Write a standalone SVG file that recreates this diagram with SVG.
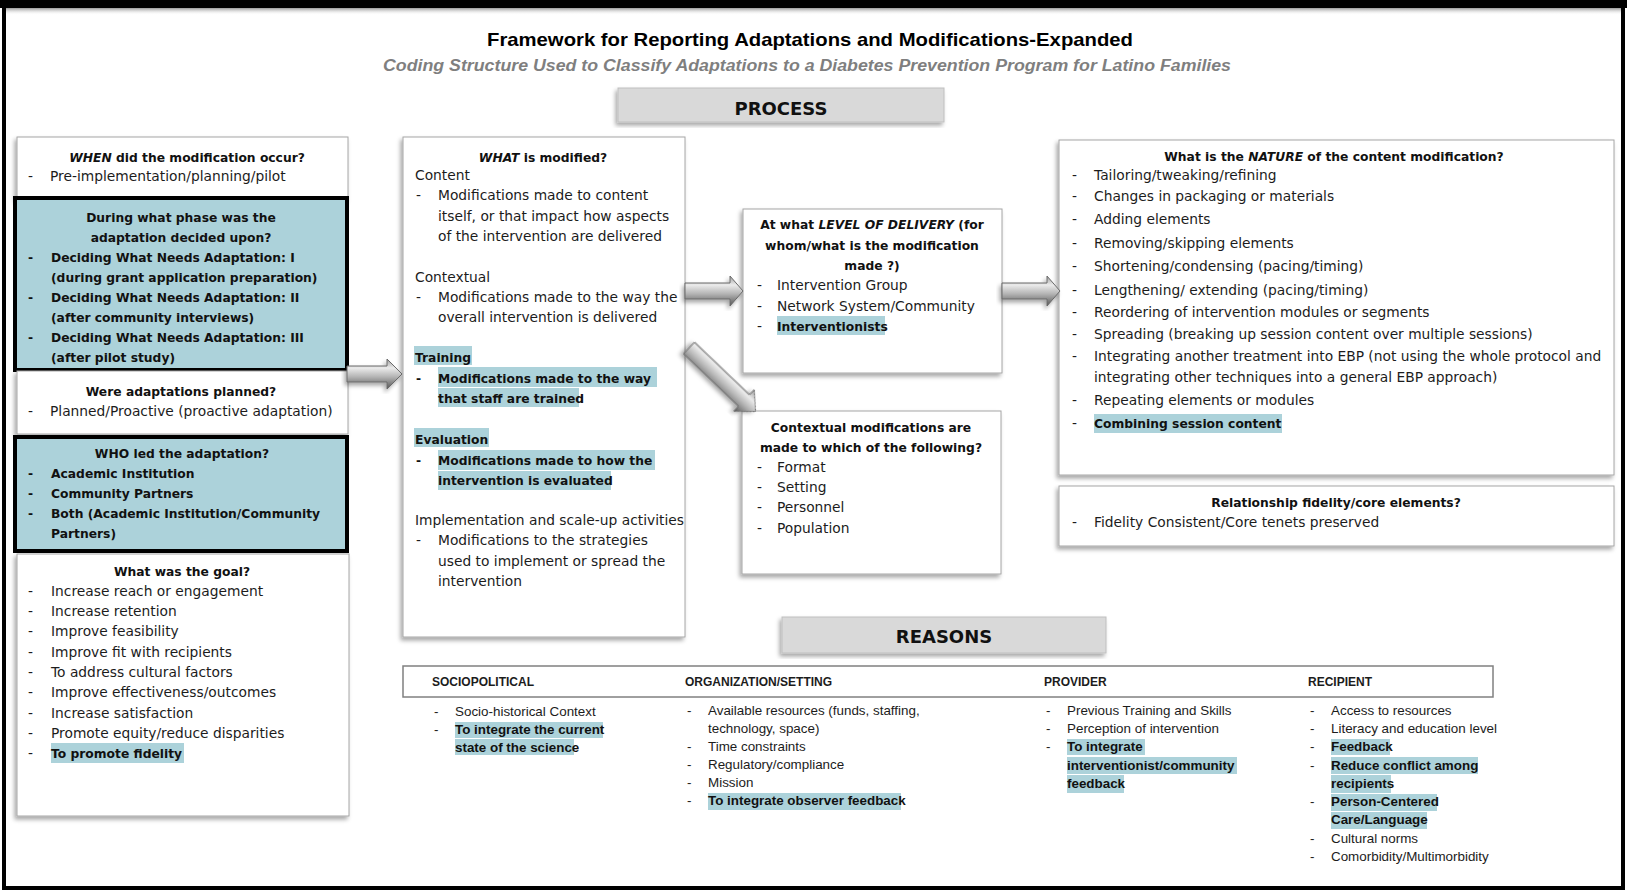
<svg xmlns="http://www.w3.org/2000/svg" width="1627" height="891" viewBox="0 0 1627 891">
<defs>
<style>
.r{font-family:"DejaVu Sans",sans-serif;font-size:13.8px;fill:#1c1c1c}
.b{font-family:"DejaVu Sans",sans-serif;font-size:12.3px;font-weight:bold;fill:#111}
.i{font-style:italic}
.m{text-anchor:middle}
.s{font-family:"Liberation Sans",Arial,sans-serif;font-size:13.4px;fill:#1c1c1c}
.sb{font-family:"Liberation Sans",Arial,sans-serif;font-size:13.4px;font-weight:bold;fill:#111}
.sh{font-family:"Liberation Sans",Arial,sans-serif;font-size:12px;font-weight:bold;fill:#1c1c1c}
.hl{fill:#acd2da}
.box{fill:#fff;stroke:#a6a6a6;stroke-width:1}
.teal{fill:#acd2da;stroke:#000;stroke-width:4}
.lab{fill:#d9d9d9;stroke:#bfbfbf;stroke-width:1}
.arr{fill:url(#ag);stroke:#6a6a6a;stroke-width:1}
.big{font-family:"DejaVu Sans",sans-serif;font-size:18px;font-weight:bold;fill:#111;text-anchor:middle}
</style>
<filter id="ds" x="-10%" y="-10%" width="120%" height="125%"><feDropShadow dx="-2" dy="3" stdDeviation="2" flood-color="#000" flood-opacity="0.35"/></filter>
<linearGradient id="ag" x1="0" y1="0" x2="0" y2="1"><stop offset="0" stop-color="#9a9a9a"/><stop offset="0.3" stop-color="#ebebeb"/><stop offset="0.6" stop-color="#b3b3b3"/><stop offset="1" stop-color="#555555"/></linearGradient>
<linearGradient id="topsh" x1="0" y1="0" x2="0" y2="1"><stop offset="0" stop-color="#999"/><stop offset="1" stop-color="#fff" stop-opacity="0"/></linearGradient>
</defs>
<rect x="0" y="0" width="1627" height="891" fill="#fff"/>
<rect x="6" y="8" width="1615" height="7" fill="url(#topsh)"/>
<rect x="4" y="4" width="1619" height="884" fill="none" stroke="#000" stroke-width="4"/>
<rect x="0" y="0" width="1627" height="8" fill="#000"/>

<g id="title">
<text x="810" y="46" font-family="'Liberation Sans',Arial,sans-serif" font-size="19" font-weight="bold" fill="#000" text-anchor="middle" textLength="646" lengthAdjust="spacingAndGlyphs">Framework for Reporting Adaptations and Modifications-Expanded</text>
<text x="807" y="71" font-family="'Liberation Sans',Arial,sans-serif" font-size="16" font-weight="bold" font-style="italic" fill="#7f7f7f" text-anchor="middle" textLength="848" lengthAdjust="spacingAndGlyphs">Coding Structure Used to Classify Adaptations to a Diabetes Prevention Program for Latino Families</text>
</g>

<g id="process">
<rect class="lab" x="618" y="88" width="326" height="34" filter="url(#ds)"/>
<text class="big" x="781" y="115">PROCESS</text>
</g>

<g id="when">
<rect class="box" x="17" y="137" width="331" height="63" filter="url(#ds)"/>
<text class="b m" x="187" y="162"><tspan class="i">WHEN</tspan> did the modification occur?</text>
<text class="r" x="28" y="181">-</text><text class="r" x="50" y="181">Pre-implementation/planning/pilot</text>
</g>

<g id="phase">
<rect class="teal" x="15" y="198" width="332" height="172"/>
<text class="b m" x="181" y="222">During what phase was the</text>
<text class="b m" x="181" y="242">adaptation decided upon?</text>
<text class="b" x="28" y="262">-</text><text class="b" x="51" y="262">Deciding What Needs Adaptation: I</text>
<text class="b" x="51" y="282">(during grant application preparation)</text>
<text class="b" x="28" y="302">-</text><text class="b" x="51" y="302">Deciding What Needs Adaptation: II</text>
<text class="b" x="51" y="322">(after community interviews)</text>
<text class="b" x="28" y="342">-</text><text class="b" x="51" y="342">Deciding What Needs Adaptation: III</text>
<text class="b" x="51" y="362">(after pilot study)</text>
</g>

<g id="planned">
<rect class="box" x="17" y="371" width="331" height="63" filter="url(#ds)"/>
<text class="b m" x="181" y="396">Were adaptations planned?</text>
<text class="r" x="28" y="416">-</text><text class="r" x="50" y="416">Planned/Proactive (proactive adaptation)</text>
</g>

<g id="who">
<rect class="teal" x="15" y="437" width="332" height="114"/>
<text class="b m" x="182" y="458">WHO led the adaptation?</text>
<text class="b" x="28" y="478">-</text><text class="b" x="51" y="478">Academic Institution</text>
<text class="b" x="28" y="498">-</text><text class="b" x="51" y="498">Community Partners</text>
<text class="b" x="28" y="518">-</text><text class="b" x="51" y="518">Both (Academic Institution/Community</text>
<text class="b" x="51" y="538">Partners)</text>
</g>

<g id="goal">
<rect class="box" x="17" y="554" width="332" height="262" filter="url(#ds)"/>
<rect class="hl" x="51" y="743" width="133" height="20"/>
<text class="b m" x="182" y="576">What was the goal?</text>
<text class="r" x="28" y="596">-</text><text class="r" x="51" y="596">Increase reach or engagement</text>
<text class="r" x="28" y="616">-</text><text class="r" x="51" y="616">Increase retention</text>
<text class="r" x="28" y="636">-</text><text class="r" x="51" y="636">Improve feasibility</text>
<text class="r" x="28" y="657">-</text><text class="r" x="51" y="657">Improve fit with recipients</text>
<text class="r" x="28" y="677">-</text><text class="r" x="51" y="677">To address cultural factors</text>
<text class="r" x="28" y="697">-</text><text class="r" x="51" y="697">Improve effectiveness/outcomes</text>
<text class="r" x="28" y="718">-</text><text class="r" x="51" y="718">Increase satisfaction</text>
<text class="r" x="28" y="738">-</text><text class="r" x="51" y="738">Promote equity/reduce disparities</text>
<text class="r" x="28" y="758">-</text><text class="b" x="51" y="758">To promote fidelity</text>
</g>

<g id="what">
<rect class="box" x="403" y="137" width="282" height="500" filter="url(#ds)"/>
<rect class="hl" x="414" y="346" width="58" height="19"/>
<rect class="hl" x="438" y="367" width="219" height="20"/>
<rect class="hl" x="438" y="388" width="141" height="19"/>
<rect class="hl" x="414" y="428" width="75" height="19"/>
<rect class="hl" x="438" y="450" width="217" height="20"/>
<rect class="hl" x="438" y="471" width="173" height="19"/>
<text class="b m" x="543" y="162"><tspan class="i">WHAT</tspan> is modified?</text>
<text class="r" x="415" y="180">Content</text>
<text class="r" x="416" y="200">-</text><text class="r" x="438" y="200">Modifications made to content</text>
<text class="r" x="438" y="221">itself, or that impact how aspects</text>
<text class="r" x="438" y="241">of the intervention are delivered</text>
<text class="r" x="415" y="282">Contextual</text>
<text class="r" x="416" y="302">-</text><text class="r" x="438" y="302">Modifications made to the way the</text>
<text class="r" x="438" y="322">overall intervention is delivered</text>
<text class="b" x="415" y="362">Training</text>
<text class="b" x="416" y="383">-</text><text class="b" x="438" y="383">Modifications made to the way</text>
<text class="b" x="438" y="403">that staff are trained</text>
<text class="b" x="415" y="444">Evaluation</text>
<text class="b" x="416" y="465">-</text><text class="b" x="438" y="465">Modifications made to how the</text>
<text class="b" x="438" y="485">intervention is evaluated</text>
<text class="r" x="415" y="525">Implementation and scale-up activities</text>
<text class="r" x="416" y="545">-</text><text class="r" x="438" y="545">Modifications to the strategies</text>
<text class="r" x="438" y="566">used to implement or spread the</text>
<text class="r" x="438" y="586">intervention</text>
</g>

<g id="level">
<rect class="box" x="743" y="209" width="259" height="164" filter="url(#ds)"/>
<rect class="hl" x="777" y="316" width="108" height="19"/>
<text class="b m" x="872" y="229">At what <tspan class="i">LEVEL OF DELIVERY</tspan> (for</text>
<text class="b m" x="872" y="250">whom/what is the modification</text>
<text class="b m" x="872" y="270">made ?)</text>
<text class="r" x="757" y="290">-</text><text class="r" x="777" y="290">Intervention Group</text>
<text class="r" x="757" y="311">-</text><text class="r" x="777" y="311">Network System/Community</text>
<text class="r" x="757" y="331">-</text><text class="b" x="777" y="331">Interventionists</text>
</g>

<g id="contextual">
<rect class="box" x="742" y="411" width="259" height="163" filter="url(#ds)"/>
<text class="b m" x="871" y="432">Contextual modifications are</text>
<text class="b m" x="871" y="452">made to which of the following?</text>
<text class="r" x="757" y="472">-</text><text class="r" x="777" y="472">Format</text>
<text class="r" x="757" y="492">-</text><text class="r" x="777" y="492">Setting</text>
<text class="r" x="757" y="512">-</text><text class="r" x="777" y="512">Personnel</text>
<text class="r" x="757" y="533">-</text><text class="r" x="777" y="533">Population</text>
</g>

<g id="nature">
<rect class="box" x="1059" y="140" width="555" height="335" filter="url(#ds)"/>
<rect class="hl" x="1094" y="414" width="188" height="19"/>
<text class="b m" x="1334" y="161">What is the <tspan class="i">NATURE</tspan> of the content modification?</text>
<text class="r" x="1072" y="180">-</text><text class="r" x="1094" y="180">Tailoring/tweaking/refining</text>
<text class="r" x="1072" y="201">-</text><text class="r" x="1094" y="201">Changes in packaging or materials</text>
<text class="r" x="1072" y="224">-</text><text class="r" x="1094" y="224">Adding elements</text>
<text class="r" x="1072" y="248">-</text><text class="r" x="1094" y="248">Removing/skipping elements</text>
<text class="r" x="1072" y="271">-</text><text class="r" x="1094" y="271">Shortening/condensing (pacing/timing)</text>
<text class="r" x="1072" y="295">-</text><text class="r" x="1094" y="295">Lengthening/ extending (pacing/timing)</text>
<text class="r" x="1072" y="317">-</text><text class="r" x="1094" y="317">Reordering of intervention modules or segments</text>
<text class="r" x="1072" y="339">-</text><text class="r" x="1094" y="339">Spreading (breaking up session content over multiple sessions)</text>
<text class="r" x="1072" y="361">-</text><text class="r" x="1094" y="361">Integrating another treatment into EBP (not using the whole protocol and</text>
<text class="r" x="1094" y="382">integrating other techniques into a general EBP approach)</text>
<text class="r" x="1072" y="405">-</text><text class="r" x="1094" y="405">Repeating elements or modules</text>
<text class="r" x="1072" y="428">-</text><text class="b" x="1094" y="428">Combining session content</text>
</g>

<g id="relationship">
<rect class="box" x="1059" y="486" width="555" height="60" filter="url(#ds)"/>
<text class="b m" x="1336" y="507">Relationship fidelity/core elements?</text>
<text class="r" x="1072" y="527">-</text><text class="r" x="1094" y="527">Fidelity Consistent/Core tenets preserved</text>
</g>

<g id="reasons">
<rect class="lab" x="782" y="617" width="324" height="36" filter="url(#ds)"/>
<text class="big" x="944" y="643">REASONS</text>
</g>

<g id="reasons-table">
<rect x="403" y="666" width="1090" height="31" fill="none" stroke="#808080" stroke-width="1.5"/>
<text class="sh" x="432" y="686">SOCIOPOLITICAL</text>
<text class="sh" x="685" y="686">ORGANIZATION/SETTING</text>
<text class="sh" x="1044" y="686">PROVIDER</text>
<text class="sh" x="1308" y="686">RECIPIENT</text>
</g>

<g id="sociopolitical">
<rect class="hl" x="455" y="722" width="148" height="16"/>
<rect class="hl" x="455" y="739" width="119" height="16"/>
<text class="s" x="434" y="716">-</text><text class="s" x="455" y="716">Socio-historical Context</text>
<text class="s" x="434" y="734">-</text><text class="sb" x="455" y="734">To integrate the current</text>
<text class="sb" x="455" y="752">state of the science</text>
</g>

<g id="organization">
<rect class="hl" x="708" y="793" width="193" height="17"/>
<text class="s" x="687" y="715">-</text><text class="s" x="708" y="715">Available resources (funds, staffing,</text>
<text class="s" x="708" y="733">technology, space)</text>
<text class="s" x="687" y="751">-</text><text class="s" x="708" y="751">Time constraints</text>
<text class="s" x="687" y="769">-</text><text class="s" x="708" y="769">Regulatory/compliance</text>
<text class="s" x="687" y="787">-</text><text class="s" x="708" y="787">Mission</text>
<text class="s" x="687" y="805">-</text><text class="sb" x="708" y="805">To integrate observer feedback</text>
</g>

<g id="provider">
<rect class="hl" x="1067" y="739" width="78" height="16"/>
<rect class="hl" x="1067" y="757" width="170" height="17"/>
<rect class="hl" x="1067" y="775" width="57" height="18"/>
<text class="s" x="1046" y="715">-</text><text class="s" x="1067" y="715">Previous Training and Skills</text>
<text class="s" x="1046" y="733">-</text><text class="s" x="1067" y="733">Perception of intervention</text>
<text class="s" x="1046" y="751">-</text><text class="sb" x="1067" y="751">To integrate</text>
<text class="sb" x="1067" y="770">interventionist/community</text>
<text class="sb" x="1067" y="788">feedback</text>
</g>

<g id="recipient">
<rect class="hl" x="1331" y="739" width="59" height="16"/>
<rect class="hl" x="1331" y="757" width="147" height="17"/>
<rect class="hl" x="1331" y="775" width="60" height="18"/>
<rect class="hl" x="1331" y="794" width="106" height="17"/>
<rect class="hl" x="1331" y="812" width="96" height="17"/>
<text class="s" x="1310" y="715">-</text><text class="s" x="1331" y="715">Access to resources</text>
<text class="s" x="1310" y="733">-</text><text class="s" x="1331" y="733">Literacy and education level</text>
<text class="s" x="1310" y="751">-</text><text class="sb" x="1331" y="751">Feedback</text>
<text class="s" x="1310" y="770">-</text><text class="sb" x="1331" y="770">Reduce conflict among</text>
<text class="sb" x="1331" y="788">recipients</text>
<text class="s" x="1310" y="806">-</text><text class="sb" x="1331" y="806">Person-Centered</text>
<text class="sb" x="1331" y="824">Care/Language</text>
<text class="s" x="1310" y="843">-</text><text class="s" x="1331" y="843">Cultural norms</text>
<text class="s" x="1310" y="861">-</text><text class="s" x="1331" y="861">Comorbidity/Multimorbidity</text>
</g>

<g id="connectors">
<g transform="translate(347,374)" filter="url(#ds)"><polygon class="arr" points="0,-8 40,-8 40,-15 55,0 40,15 40,8 0,8"/></g>
<g transform="translate(685,291)" filter="url(#ds)"><polygon class="arr" points="0,-8 45,-8 45,-15 58,0 45,15 45,8 0,8"/></g>
<g transform="translate(1002,291)" filter="url(#ds)"><polygon class="arr" points="0,-8 45,-8 45,-15 58,0 45,15 45,8 0,8"/></g>
<g transform="translate(689,348) rotate(43.7)" filter="url(#ds)"><polygon class="arr" points="0,-8 76,-8 76,-15 92,0 76,15 76,8 0,8"/></g>
</g>
</svg>
